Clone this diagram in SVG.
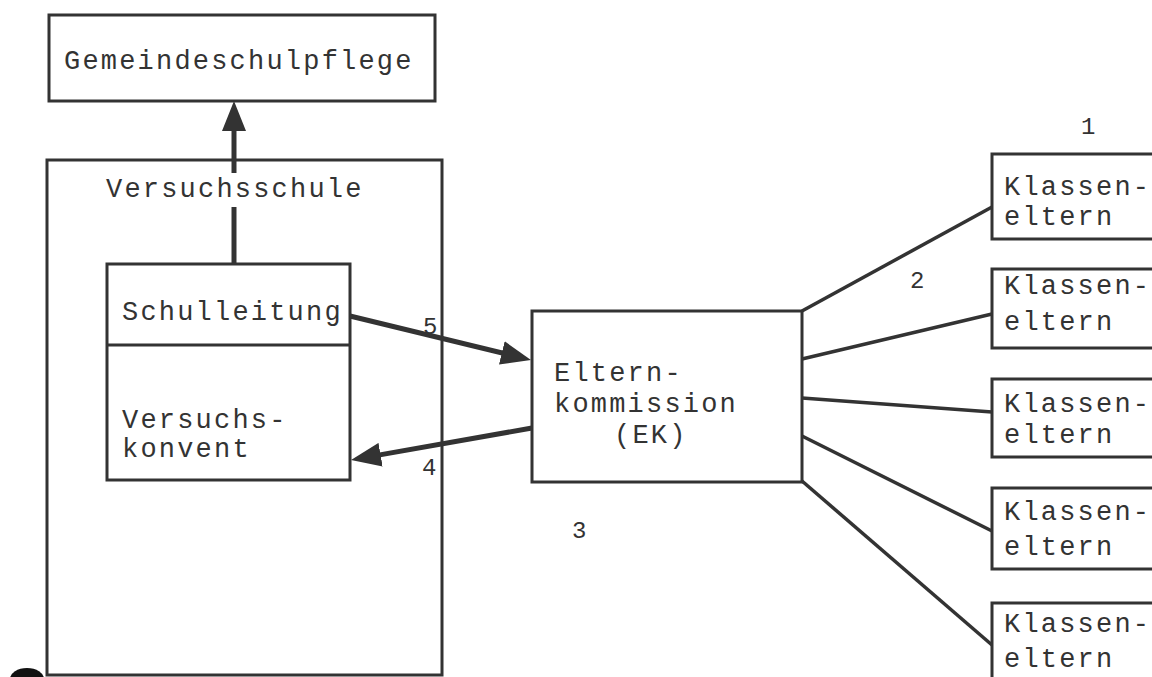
<svg xmlns="http://www.w3.org/2000/svg" width="1152" height="677" viewBox="0 0 1152 677">
<defs>
<style>
.box{fill:none;stroke:#333;stroke-width:3}
.t{font-family:"Liberation Mono","DejaVu Sans Mono",monospace;font-size:27px;letter-spacing:2.2px;fill:#333}
.n{font-family:"Liberation Mono","DejaVu Sans Mono",monospace;font-size:24px;fill:#333}
.thick{fill:none;stroke:#333;stroke-width:5}
.thin{fill:none;stroke:#333;stroke-width:3.5}
</style>
<marker id="ah" markerUnits="userSpaceOnUse" viewBox="0 0 30 24" refX="8" refY="12" markerWidth="30" markerHeight="24" orient="auto">
<path d="M0,0 L30,12 L0,24 z" fill="#333"/>
</marker>
</defs>
<rect width="1152" height="677" fill="#fff"/>

<g id="gemeindeschulpflege">
<rect class="box" x="49" y="15" width="386" height="86"/>
<text class="t" x="64" y="69">Gemeindeschulpflege</text>
</g>

<g id="versuchsschule">
<rect class="box" x="47" y="160" width="395" height="515"/>
<text class="t" x="106" y="197">Versuchsschule</text>
</g>

<g id="schulleitung">
<rect class="box" x="107" y="264" width="243" height="216"/>
<line class="box" x1="107" y1="345" x2="350" y2="345"/>
<text class="t" x="122" y="320">Schulleitung</text>
</g>

<g id="versuchskonvent">
<text class="t" x="122" y="428">Versuchs-</text>
<text class="t" x="122" y="457">konvent</text>
</g>

<g id="elternkommission">
<rect class="box" x="532" y="311" width="270" height="171"/>
<text class="t" x="554" y="381">Eltern-</text>
<text class="t" x="554" y="412">kommission</text>
<text class="t" x="614" y="443">(EK)</text>
</g>

<g id="klasseneltern1">
<rect class="box" x="992" y="154" width="200" height="85"/>
<text class="t" x="1004" y="195">Klassen-</text>
<text class="t" x="1004" y="225">eltern</text>
</g>
<g id="klasseneltern2">
<rect class="box" x="992" y="269" width="200" height="79"/>
<text class="t" x="1004" y="294">Klassen-</text>
<text class="t" x="1004" y="330">eltern</text>
</g>
<g id="klasseneltern3">
<rect class="box" x="992" y="379" width="200" height="78"/>
<text class="t" x="1004" y="412">Klassen-</text>
<text class="t" x="1004" y="443">eltern</text>
</g>
<g id="klasseneltern4">
<rect class="box" x="992" y="488" width="200" height="81"/>
<text class="t" x="1004" y="520">Klassen-</text>
<text class="t" x="1004" y="555">eltern</text>
</g>
<g id="klasseneltern5">
<rect class="box" x="992" y="603" width="200" height="90"/>
<text class="t" x="1004" y="632">Klassen-</text>
<text class="t" x="1004" y="667">eltern</text>
</g>

<g id="connectors">
<line class="thick" x1="234" y1="264" x2="234" y2="207"/>
<line class="thick" x1="234" y1="173" x2="234" y2="123" marker-end="url(#ah)"/>
<line class="thick" x1="350" y1="316" x2="509.6" y2="354.8" marker-end="url(#ah)"/>
<line class="thick" x1="532" y1="428" x2="372.7" y2="456.1" marker-end="url(#ah)"/>
<line class="thin" x1="802" y1="311" x2="992" y2="207"/>
<line class="thin" x1="802" y1="359" x2="992" y2="314"/>
<line class="thin" x1="802" y1="398" x2="992" y2="412"/>
<line class="thin" x1="802" y1="436" x2="992" y2="531"/>
<line class="thin" x1="802" y1="481" x2="992" y2="645"/>
</g>

<g id="labels">
<text class="n" x="1081" y="134">1</text>
<text class="n" x="910" y="288">2</text>
<text class="n" x="572" y="538">3</text>
<text class="n" x="422" y="475">4</text>
<text class="n" x="423" y="334">5</text>
</g>

<ellipse cx="27" cy="679" rx="17" ry="11" fill="#111"/>
</svg>
